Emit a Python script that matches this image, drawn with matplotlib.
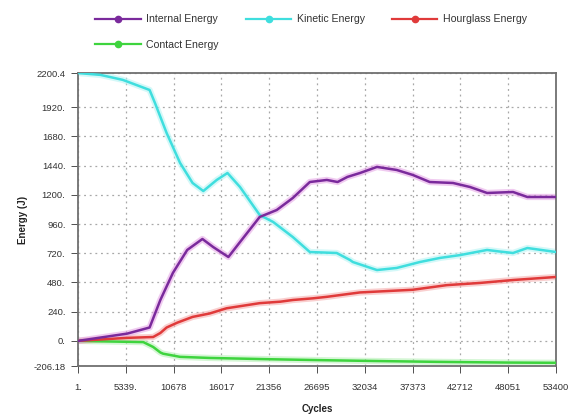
import matplotlib
matplotlib.use("Agg")
import matplotlib.pyplot as plt
from matplotlib.lines import Line2D

plt.rcParams['font.family'] = ['Liberation Sans', 'DejaVu Sans']

# ---- data ----
kin_x = [1, 2500, 5000, 8000, 8600, 9900, 11400, 12800, 14000, 15500, 16700, 18100,
         20300, 21800, 24000, 25900, 28900, 30400, 30700, 33400, 35600, 38200,
         40400, 42700, 45700, 47000, 48600, 50200, 53400]
kin_y = [2200, 2185, 2144, 2061, 1954, 1708, 1462, 1297, 1231, 1322, 1379, 1264,
         1034, 977, 853, 730, 722, 664, 648, 582, 599, 648,
         681, 705, 747, 735, 722, 763, 730]

int_x = [1, 5500, 8000, 9200, 10600, 12200, 13900, 15100, 16800, 18100, 20300,
         22200, 24000, 25900, 27800, 29000, 30100, 31500, 33400, 35600, 37400,
         39300, 41900, 43800, 45700, 48600, 50200, 53400]
int_y = [0, 60, 110, 336, 558, 747, 837, 771, 689, 812, 1018,
         1075, 1174, 1305, 1322, 1305, 1347, 1379, 1429, 1404, 1363,
         1305, 1297, 1264, 1215, 1223, 1182, 1182]

hg_x = [1, 5500, 8400, 9200, 9900, 11100, 12800, 14700, 16600, 20300, 22600,
        24000, 26300, 27800, 31500, 37400, 41200, 44900, 48600, 53400]
hg_y = [0, 25, 32, 65, 110, 150, 197, 225, 268, 310, 322,
        336, 350, 362, 398, 420, 458, 476, 500, 525]

ct_x = [1, 7300, 8400, 9200, 9500, 11400, 14700, 21000, 27000, 33000, 40000, 48000, 53400]
ct_y = [0, -10, -50, -95, -105, -131, -140, -150, -158, -165, -172, -178, -180]

series_names = ["Internal Energy", "Kinetic Energy", "Hourglass Energy", "Contact Energy"]
colors = ["#7a2a9c", "#3fdede", "#e03a3a", "#3ed43e"]
halos = ["#e6a8e6", "#b8f4f4", "#f6b0b0", "#b8f0b8"]

x_ticks = [1, 5339, 10678, 16017, 21356, 26695, 32034, 37373, 42712, 48051, 53400]
x_labels = ["1.", "5339.", "10678", "16017", "21356", "26695", "32034", "37373",
            "42712", "48051", "53400"]
y_ticks = [-206.18, 0, 240, 480, 720, 960, 1200, 1440, 1680, 1920, 2200.4]
y_labels = ["-206.18", "0.", "240.", "480.", "720.", "960.", "1200.", "1440.",
            "1680.", "1920.", "2200.4"]

fig = plt.figure(figsize=(5.73, 4.19), dpi=100)
ax = fig.add_axes([78/573, 1 - 366/419, (556-78)/573, (366-73)/419])

data = [(int_x, int_y), (kin_x, kin_y), (hg_x, hg_y), (ct_x, ct_y)]
order = [3, 2, 1, 0]
for i in order:
    xs, ys = data[i]
    ax.plot(xs, ys, color=halos[i], lw=4.5, alpha=0.6, solid_capstyle='round', zorder=2)
for i in order:
    xs, ys = data[i]
    ax.plot(xs, ys, color=colors[i], lw=1.8, zorder=3)

ax.set_xlim(1, 53400)
ax.set_ylim(-206.18, 2200.4)
ax.set_xticks(x_ticks)
ax.set_xticklabels(x_labels)
ax.set_yticks(y_ticks)
ax.set_yticklabels(y_labels)
ax.tick_params(axis='both', labelsize=6.8, colors='#333333', length=5, width=0.6,
               direction='out', pad=4)
ax.tick_params(axis='x', pad=7)
for t in ax.get_xticklines() + ax.get_yticklines():
    t.set_color('#bbbbbb')

ax.grid(True, linestyle=(0, (1.5, 3)), color='#a8a8a8', linewidth=0.9, zorder=1)
ax.set_axisbelow(True)
for sp in ax.spines.values():
    sp.set_color('#707070')
    sp.set_linewidth(1.3)

ax.set_xlabel("Cycles", fontsize=7, fontweight='bold', color='#222222', labelpad=9)
ax.set_ylabel("Energy (J)", fontsize=7, fontweight='bold', color='#222222', labelpad=4)

# legend (row-major order: Internal, Kinetic, Hourglass / Contact)
handles = [Line2D([], [], color=colors[i], lw=1.6, marker='o', markersize=4.5)
           for i in range(4)]
leg_order = [0, 3, 1, 2]
leg = fig.legend([handles[i] for i in leg_order], [series_names[i] for i in leg_order],
                 loc='upper left', bbox_to_anchor=(90/573, 1 - 9/419), ncol=3, frameon=False,
                 borderpad=0, fontsize=7.6, handlelength=4.3, handletextpad=0.5,
                 columnspacing=2.6, labelspacing=1.45)
for t in leg.get_texts():
    t.set_color('#333333')

fig.savefig("out.png", dpi=100)
